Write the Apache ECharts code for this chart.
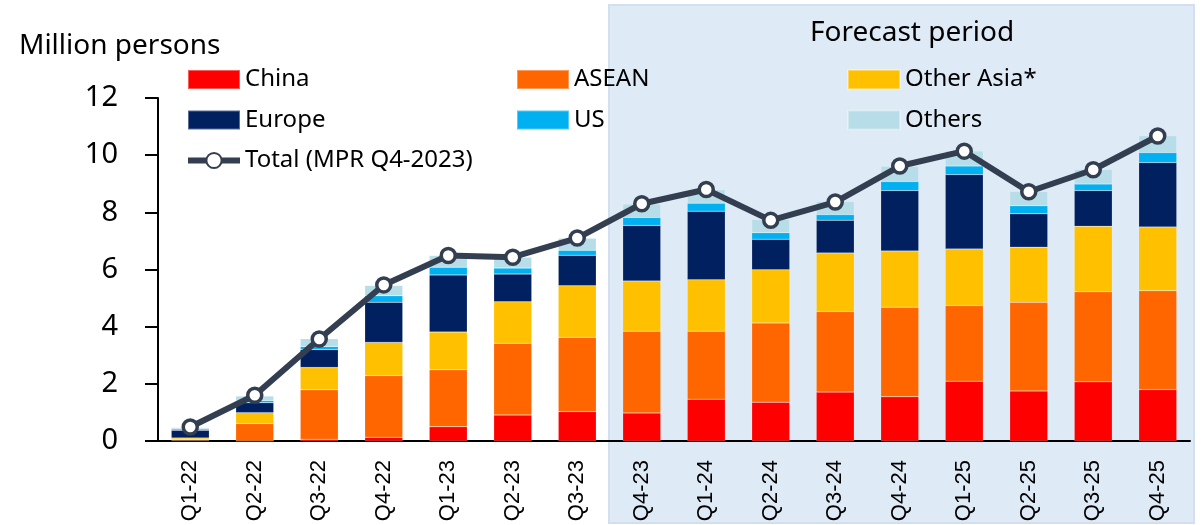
<!DOCTYPE html>
<html>
<head>
<meta charset="utf-8">
<script src="https://cdn.jsdelivr.net/npm/echarts@6/dist/echarts.min.js"></script>
<style>
  html, body { margin: 0; padding: 0; background: #fff; }
  #main { width: 1202px; height: 525px; }
</style>
</head>
<body>
<div id="main"></div>
<script>
// data
var quarters = ['Q1-22','Q2-22','Q3-22','Q4-22','Q1-23','Q2-23','Q3-23','Q4-23',
                'Q1-24','Q2-24','Q3-24','Q4-24','Q1-25','Q2-25','Q3-25','Q4-25'];
var china     = [0.02, 0.00, 0.06, 0.13, 0.50, 0.91, 1.03, 0.98, 1.46, 1.36, 1.71, 1.55, 2.09, 1.75, 2.07, 1.80];
var asean     = [0.03, 0.61, 1.73, 2.16, 1.99, 2.51, 2.60, 2.86, 2.38, 2.77, 2.82, 3.13, 2.65, 3.10, 3.15, 3.46];
var otherAsia = [0.055, 0.38, 0.78, 1.16, 1.32, 1.45, 1.80, 1.76, 1.80, 1.86, 2.05, 1.97, 1.98, 1.93, 2.29, 2.23];
var europe    = [0.275, 0.35, 0.63, 1.40, 2.00, 0.97, 1.07, 1.94, 2.40, 1.07, 1.14, 2.11, 2.60, 1.17, 1.25, 2.25];
var us        = [0.04, 0.08, 0.11, 0.23, 0.27, 0.21, 0.17, 0.28, 0.28, 0.23, 0.20, 0.32, 0.30, 0.28, 0.23, 0.35];
var others    = [0.05, 0.15, 0.27, 0.36, 0.41, 0.38, 0.42, 0.47, 0.47, 0.46, 0.46, 0.53, 0.53, 0.50, 0.51, 0.59];
var total     = [0.49, 1.60, 3.57, 5.46, 6.49, 6.43, 7.10, 8.30, 8.80, 7.72, 8.36, 9.62, 10.14, 8.72, 9.49, 10.67];

var font = '"Noto Sans", "DejaVu Sans", sans-serif';
var myChart = echarts.init(document.getElementById('main'));

function bar(name, data, color) {
    return {
        name: name,
        type: 'bar',
        stack: 'all',
        barWidth: 38,
        data: data,
        itemStyle: { color: color, borderColor: 'rgba(255,255,255,0.35)', borderWidth: 0.5 }
    };
}

var legendCommon = {
    orient: 'vertical',
    padding: 0,
    itemWidth: 52,
    itemHeight: 19,
    itemGap: 16.5,
    textStyle: { fontFamily: font, fontSize: 24, color: '#000', lineHeight: 24 }
};

var option = {
    animation: false,
    textStyle: { fontFamily: font },
    title: {
        text: 'Million persons',
        left: 19,
        top: 32,
        padding: 0,
        textStyle: { fontFamily: font, fontSize: 28, fontWeight: 'normal', color: '#000' }
    },
    graphic: [
        {
            type: 'rect',
            z: -10,
            shape: { x: 609, y: 5, width: 585, height: 518 },
            style: { fill: '#DEEAF6', stroke: '#D3DFEE', lineWidth: 2 }
        },
        {
            type: 'text',
            z: 10,
            left: 810,
            top: 19,
            style: { text: 'Forecast period', fontFamily: font, fontSize: 28, fill: '#000' }
        }
    ],
    legend: [
        Object.assign({}, legendCommon, {
            left: 185, top: 67.5,
            data: [{ name: 'China', icon: 'rect' }, { name: 'Europe', icon: 'rect' }, 'Total (MPR Q4-2023)'],
            lineStyle: { width: 6 }
        }),
        Object.assign({}, legendCommon, { left: 516, top: 67.5, icon: 'rect', data: ['ASEAN', 'US'] }),
        Object.assign({}, legendCommon, { left: 847, top: 67.5, icon: 'rect', data: ['Other Asia*', 'Others'] })
    ],
    grid: { left: 158, right: 12, top: 98, bottom: 84 },
    xAxis: {
        type: 'category',
        data: quarters,
        axisLine: { lineStyle: { color: '#000', width: 2 } },
        axisTick: { length: 8, lineStyle: { color: '#000', width: 2 } },
        axisLabel: {
            rotate: 90,
            margin: 19,
            fontFamily: '"Liberation Sans", Arial, sans-serif',
            fontSize: 22,
            color: '#000'
        }
    },
    yAxis: {
        type: 'value',
        min: 0,
        max: 12,
        interval: 2,
        splitLine: { show: false },
        axisLine: { show: true, lineStyle: { color: '#000', width: 2 } },
        axisTick: { show: true, length: 13, lineStyle: { color: '#000', width: 2 } },
        axisLabel: { fontFamily: font, fontSize: 29, color: '#000', margin: 40 }
    },
    series: [
        bar('China', china, '#FF0000'),
        bar('ASEAN', asean, '#FF6600'),
        bar('Other Asia*', otherAsia, '#FFC000'),
        bar('Europe', europe, '#002060'),
        bar('US', us, '#00B0F0'),
        bar('Others', others, '#B7DDE8'),
        {
            name: 'Total (MPR Q4-2023)',
            type: 'line',
            data: total,
            z: 5,
            symbol: 'circle',
            symbolSize: 14,
            lineStyle: { color: '#333F50', width: 6 },
            itemStyle: { color: '#fff', borderColor: '#333F50', borderWidth: 3.5 }
        }
    ]
};

myChart.setOption(option);
</script>
</body>
</html>
